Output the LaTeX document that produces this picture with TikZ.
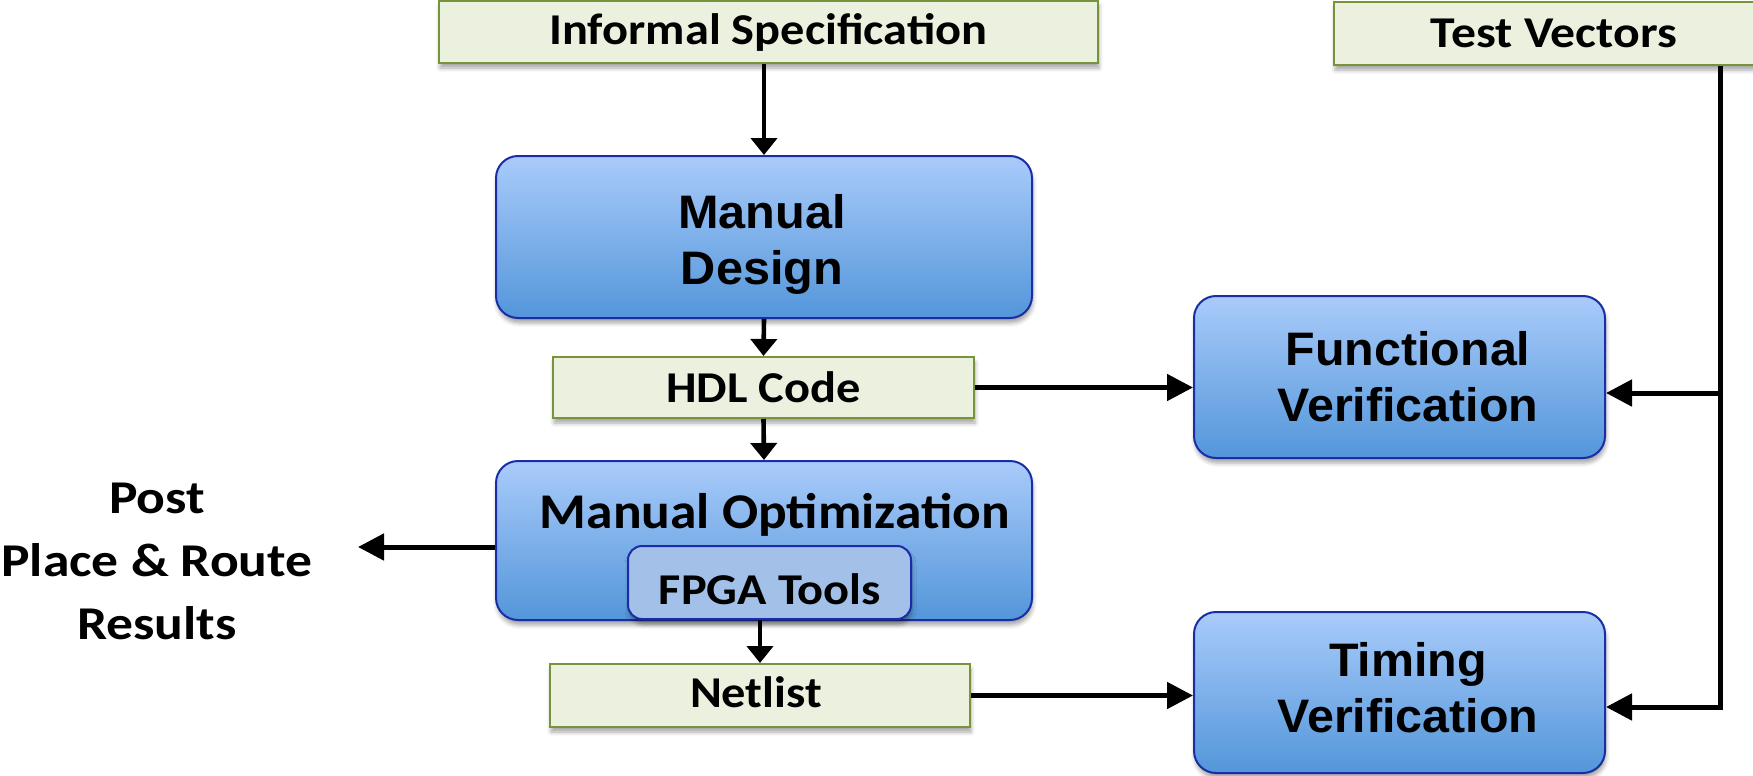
\documentclass[tikz,border=0pt]{standalone}
\usepackage{graphicx}
\usepackage{fontspec}
\setmainfont{Carlito}
\newfontfamily\arialfont{Liberation Sans}
\usetikzlibrary{arrows.meta,shadows.blur}

\definecolor{specfill}{HTML}{EBF1DE}
\definecolor{specline}{HTML}{77933C}
\definecolor{bluetop}{HTML}{A9CBFA}
\definecolor{bluebot}{HTML}{5396DA}
\definecolor{blueline}{HTML}{1A2DA6}
\definecolor{toolfill}{HTML}{A2C0E8}

% slightly widened lettering
\newcommand{\cw}[2][1.1]{\scalebox{#1}[1]{#2}}

\begin{document}
\begin{tikzpicture}[x=1pt,y=-1pt,
  softshadow/.style={blur shadow={shadow xshift=1pt, shadow yshift=-5pt,
      shadow blur radius=4pt, shadow opacity=35}},
  databox/.style={draw=specline, line width=2pt, fill=specfill, inner sep=0pt,
      softshadow, font=\bfseries\fontsize{44}{52}\selectfont},
  procbox/.style={draw=blueline, line width=2pt, rounded corners=22pt,
      top color=bluetop, bottom color=bluebot, inner sep=0pt, softshadow},
  proctext/.style={align=center, inner sep=0pt,
      font=\arialfont\bfseries\fontsize{47}{56}\selectfont},
  toolbox/.style={draw=blueline, line width=2pt, rounded corners=14pt,
      fill=toolfill, inner sep=0pt, softshadow},
  harr/.style={line width=5pt, -{Triangle[length=26pt,width=26pt]}},
  varr/.style={line width=4.6pt, -{Triangle[length=17pt,width=26pt]}}
]
\useasboundingbox (0,0) rectangle (1753,776);
\clip (0,0) rectangle (1753,776);

% input and intermediate data
\node[databox, minimum width=659pt, minimum height=62pt] (spec) at (768.5,32) {\cw{Informal Specification}};
\node[databox, minimum width=440pt, minimum height=63pt] (tv) at (1554,33.5) {\cw[1.13]{Test Vectors}};
\node[databox, minimum width=421pt, minimum height=61pt] (hdl) at (763.5,387.5) {\cw{HDL Code}};
\node[databox, minimum width=420pt, minimum height=63pt] (net) at (760,695.5) {};
\node[font=\bfseries\fontsize{44}{52}\selectfont] (nettext) at (756,692) {\cw{Netlist}};

% process steps
\node[procbox, minimum width=536pt, minimum height=162pt] (md) at (764,237) {};
\node[proctext] (mdtext) at (762,244) {\cw[1.035]{Manual}\\\cw[1.035]{Design}};
\node[procbox, minimum width=411pt, minimum height=162pt] (fv) at (1399.5,377) {};
\node[proctext] (fvtext) at (1408,377) {\cw[1.03]{Functional}\\\cw[1.03]{Verification}};
\node[procbox, minimum width=411pt, minimum height=161pt] (tim) at (1399.5,692.5) {};
\node[proctext] (timtext) at (1408,688) {\cw[1.03]{Timing}\\\cw[1.03]{Verification}};
\node[procbox, minimum width=536pt, minimum height=159pt] (mo) at (764,540.5) {};
\node[font=\bfseries\fontsize{50}{58}\selectfont] (motext) at (775,515) {\cw[1.07]{Manual Optimization}};
\node[toolbox, minimum width=283pt, minimum height=73pt] (fpga) at (769.5,582.5) {};
\node[font=\bfseries\fontsize{44}{52}\selectfont] (fpgatext) at (770,589) {\cw{FPGA Tools}};

% results on the left
\node[align=center, font=\bfseries\fontsize{47}{63}\selectfont] (post) at (157,561)
  {\cw[1.14]{Post}\\\cw[1.14]{Place \& Route}\\\cw[1.14]{Results}};

% connector points
\coordinate (pr) at (358,547);
\coordinate (tapF) at (1720,393);
\coordinate (tapT) at (1720,707);

% flow arrows
\draw[varr] (spec.south -| md.north) -- (md.north);
\draw[varr] (md.south) -- (hdl.north);
\draw[varr] (hdl.south) -- (mo.north);
\draw[harr] (pr -| mo.west) -- (pr);
\draw[varr] (fpga.south -| net.north) -- (net.north);
\draw[harr] (hdl.east) -- (hdl.east -| fv.west);
\draw[harr] (net.east) -- (net.east -| tim.west);

% test vector bus
\draw[harr] (tv.south -| tapT) -- (tapT) -- (tapT -| tim.east);
\draw[harr] (tapF) -- (tapF -| fv.east);
\end{tikzpicture}
\end{document}
